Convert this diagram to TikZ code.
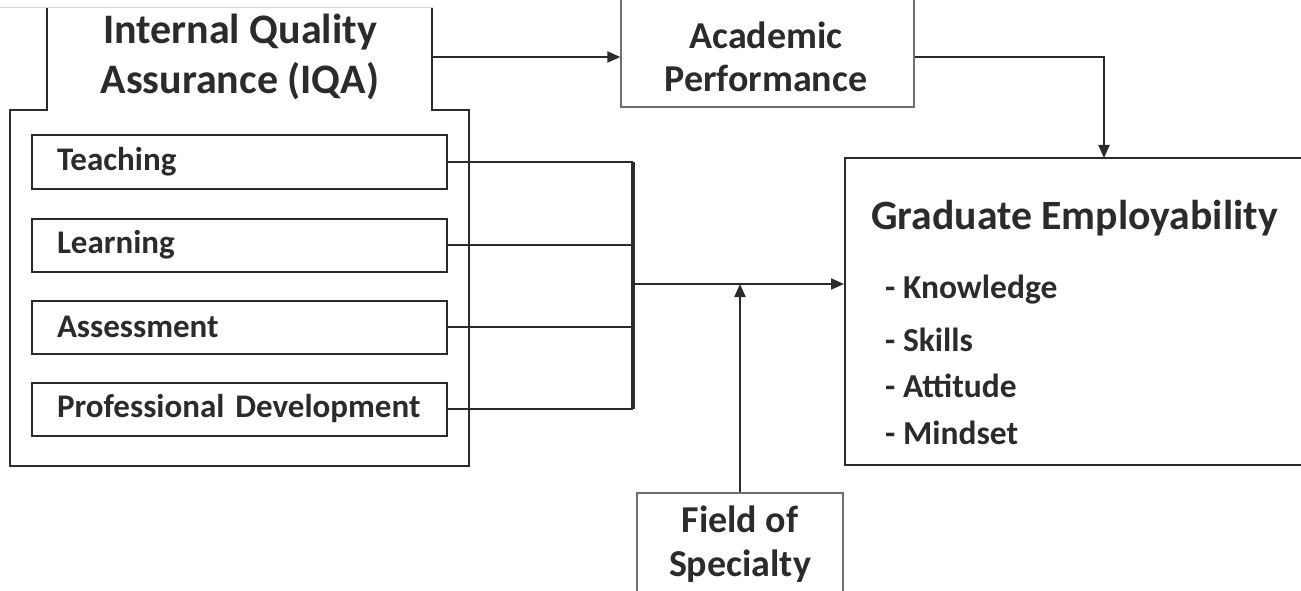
\documentclass[tikz,border=0pt]{standalone}
\usepackage{fontspec}
\setmainfont{Carlito}
\usetikzlibrary{arrows.meta}
\definecolor{ink}{HTML}{2B2B2B}
\definecolor{thin}{HTML}{6E6E6E}
\tikzset{
  every picture/.style={x=1pt,y=-1pt},
  edge/.style={draw=ink,line width=2pt},
  light/.style={draw=thin,line width=1.3pt},
  arr/.style={draw=ink,line width=2pt,-{Triangle[length=13pt,width=11pt]}},
  wire/.style={draw=ink,line width=2pt},
  bus/.style={draw=ink,line width=4pt},
  item/.style={rectangle,edge,minimum height=53pt,text width=365pt,inner xsep=25pt,
    align=left,text=ink,font=\bfseries\fontsize{33}{40}\selectfont},
  head/.style={text=ink,align=center,font=\bfseries\fontsize{38}{43.5}\selectfont},
  listtxt/.style={text=ink,anchor=west,inner sep=0pt,font=\bfseries\fontsize{33.5}{40}\selectfont},
}
\begin{document}
\begin{tikzpicture}
\useasboundingbox (0,0) rectangle (1301,591);
\clip (0,0) rectangle (1301,591);

% faint upper trim line
\draw[black!18,line width=0.8pt] (0,7) -- (433,7);

% IQA frame: narrow head on a wider body
\draw[edge] (47,8) -- (47,110) -- (10,110) -- (10,466) -- (469,466) -- (469,110) -- (432,110) -- (432,8);
\node[text=ink,align=center,font=\bfseries\fontsize{42}{50}\selectfont] (iqa) at (240,57) {Internal Quality\\Assurance (IQA)};
\coordinate (iqaR) at (432,57);

% IQA components
\node[item] (teach) at (239.5,162) {Teaching};
\node[item] (learn) at (239.5,245) {Learning};
\node[item] (assess) at (239.5,327) {Assessment};
\node[item] (prof) at (239.5,409) {Professional Development};

% Academic Performance
\node[rectangle,light,minimum width=293pt,minimum height=140pt] (ap) at (767.5,37) {};
\node[head] (aptxt) at (766,57) {Academic\\Performance};

% Graduate Employability
\node[rectangle,edge,minimum width=480pt,minimum height=307pt] (ge) at (1085,311.5) {};
\node[text=ink,anchor=west,inner sep=0pt,font=\bfseries\fontsize{41.7}{50}\selectfont] (getitle) at (871,218) {Graduate Employability};
\node[listtxt] (k) at (885,290) {- Knowledge};
\node[listtxt] (s) at (885,340) {- Skills};
\node[listtxt] (a) at (885,386) {- Attitude};
\node[listtxt] (m) at (885,433) {- Mindset};

% Field of Specialty
\node[rectangle,light,minimum width=206pt,minimum height=130pt] (fos) at (740,558) {};
\node[head] (fostxt) at (740,544) {Field of\\Specialty};

% connectors
\coordinate (busTop) at (633,162);
\coordinate (busBot) at (633,409);
\coordinate (busMid) at (633,284);
\coordinate (geIn) at (1104,158);

\draw[wire] (teach.east) -- (teach.east -| busTop);
\draw[wire] (learn.east) -- (learn.east -| busTop);
\draw[wire] (assess.east) -- (assess.east -| busTop);
\draw[wire] (prof.east) -- (busBot);
\draw[bus] (busTop) -- (busBot);

\draw[arr] (busMid) -- (busMid -| ge.west);
\draw[arr] (fos.north) -- (fos.north |- busMid);
\draw[arr] (iqaR) -- (iqaR -| ap.west);
\draw[arr] (iqaR -| ap.east) -| (geIn);
\end{tikzpicture}
\end{document}
